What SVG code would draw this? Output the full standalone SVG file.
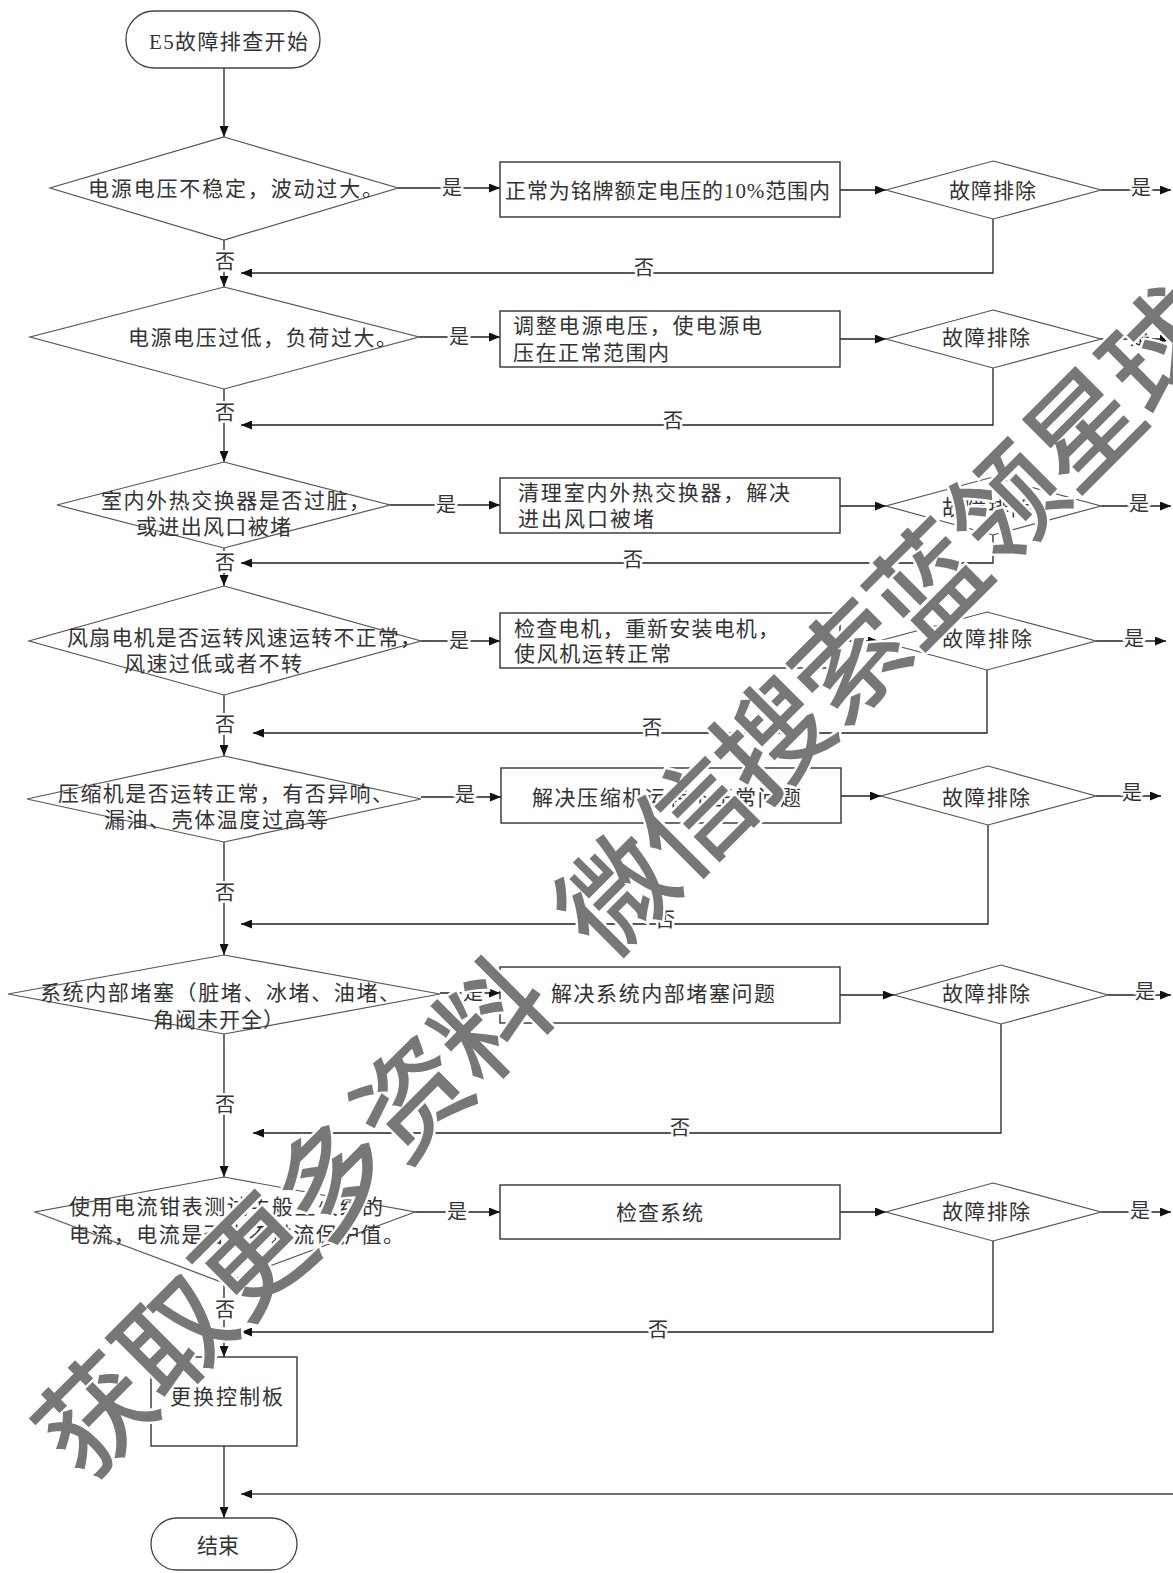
<svg xmlns="http://www.w3.org/2000/svg" width="1173" height="1573" viewBox="0 0 1173 1573">
<defs>
<marker id="ah" markerWidth="11" markerHeight="9" refX="11" refY="4.5" orient="auto" markerUnits="userSpaceOnUse"><path d="M0,0 L11,4.5 L0,9 z" fill="#111"/></marker>
<style>
.ln{stroke:#222;stroke-width:1.3;fill:none}
.dia{fill:#fff;stroke:#555;stroke-width:1.2}
.box{fill:#fff;stroke:#333;stroke-width:1.4}
.t{font-family:'Liberation Serif','Noto Sans CJK SC',serif;font-size:21px;fill:#333}
.l{font-family:'Liberation Serif','Noto Sans CJK SC',serif;font-size:20px;fill:#333;text-anchor:middle;stroke:#fff;stroke-width:5;paint-order:stroke}
.wm{font-family:'Noto Sans CJK SC',sans-serif;font-size:112px;font-weight:500;fill:#777;stroke:#fff;stroke-width:5;paint-order:stroke;text-anchor:middle}
</style>
</defs>
<rect width="1173" height="1573" fill="#fff"/>

<g id="connectors">
<path class="ln" d="M224,68 V137" marker-end="url(#ah)"/>
<path class="ln" d="M224,240 V287" marker-end="url(#ah)"/>
<path class="ln" d="M224,389 V462" marker-end="url(#ah)"/>
<path class="ln" d="M224,548 V586" marker-end="url(#ah)"/>
<path class="ln" d="M224,695 V756" marker-end="url(#ah)"/>
<path class="ln" d="M224,842 V955" marker-end="url(#ah)"/>
<path class="ln" d="M224,1034 V1177" marker-end="url(#ah)"/>
<path class="ln" d="M224,1283 V1357" marker-end="url(#ah)"/>
<path class="ln" d="M224,1446 V1518" marker-end="url(#ah)"/>

<path class="ln" d="M398,188 H500" marker-end="url(#ah)"/>
<path class="ln" d="M419,337 H500" marker-end="url(#ah)"/>
<path class="ln" d="M390,505 H500" marker-end="url(#ah)"/>
<path class="ln" d="M421,641 H500" marker-end="url(#ah)"/>
<path class="ln" d="M421,797 H501" marker-end="url(#ah)"/>
<path class="ln" d="M440,993 H500" marker-end="url(#ah)"/>
<path class="ln" d="M415,1212 H500" marker-end="url(#ah)"/>

<path class="ln" d="M840,190 H886" marker-end="url(#ah)"/>
<path class="ln" d="M840,339 H886" marker-end="url(#ah)"/>
<path class="ln" d="M840,506 H886" marker-end="url(#ah)"/>
<path class="ln" d="M840,641 H879" marker-end="url(#ah)"/>
<path class="ln" d="M840,796 H881" marker-end="url(#ah)"/>
<path class="ln" d="M840,995 H894" marker-end="url(#ah)"/>
<path class="ln" d="M840,1212 H886" marker-end="url(#ah)"/>

<path class="ln" d="M1101,190 H1171" marker-end="url(#ah)"/>
<path class="ln" d="M1101,339 H1171" marker-end="url(#ah)"/>
<path class="ln" d="M1101,506 H1171" marker-end="url(#ah)"/>
<path class="ln" d="M1096,641 H1166" marker-end="url(#ah)"/>
<path class="ln" d="M1096,796 H1161" marker-end="url(#ah)"/>
<path class="ln" d="M1108,995 H1171" marker-end="url(#ah)"/>
<path class="ln" d="M1101,1212 H1171" marker-end="url(#ah)"/>

<path class="ln" d="M993,219 V273 H241" marker-end="url(#ah)"/>
<path class="ln" d="M993,368 V425 H241" marker-end="url(#ah)"/>
<path class="ln" d="M993,535 V563 H241" marker-end="url(#ah)"/>
<path class="ln" d="M987,670 V733 H253" marker-end="url(#ah)"/>
<path class="ln" d="M988,825 V924 H241" marker-end="url(#ah)"/>
<path class="ln" d="M1001,1024 V1133 H253" marker-end="url(#ah)"/>
<path class="ln" d="M993,1241 V1332 H241" marker-end="url(#ah)"/>
<path d="M1173,1494 H241" stroke="#6e6e6e" stroke-width="2" fill="none" marker-end="url(#ah)"/>

<text class="l" x="452" y="195">是</text>
<text class="l" x="459" y="344">是</text>
<text class="l" x="446" y="512">是</text>
<text class="l" x="459" y="648">是</text>
<text class="l" x="465" y="802">是</text>
<text class="l" x="473" y="1000">是</text>
<text class="l" x="457" y="1219">是</text>
<text class="l" x="1141" y="195">是</text>
<text class="l" x="1140" y="345">是</text>
<text class="l" x="1139" y="511">是</text>
<text class="l" x="1134" y="646">是</text>
<text class="l" x="1132" y="800">是</text>
<text class="l" x="1145" y="999">是</text>
<text class="l" x="1140" y="1218">是</text>
<text class="l" x="225" y="269">否</text>
<text class="l" x="225" y="420">否</text>
<text class="l" x="225" y="570">否</text>
<text class="l" x="225" y="732">否</text>
<text class="l" x="225" y="900">否</text>
<text class="l" x="225" y="1112">否</text>
<text class="l" x="225" y="1317">否</text>
<text class="l" x="644" y="275">否</text>
<text class="l" x="673" y="428">否</text>
<text class="l" x="633" y="567">否</text>
<text class="l" x="652" y="735">否</text>
<text class="l" x="665" y="927">否</text>
<text class="l" x="680" y="1135">否</text>
<text class="l" x="658" y="1337">否</text>
</g>

<g id="start"><rect x="126" y="11" width="194" height="57" rx="28" fill="#fff" stroke="#444" stroke-width="1.3"/>
<text class="t" x="149" y="49" textLength="159" lengthAdjust="spacing">E5故障排查开始</text></g>

<g id="d1"><polygon class="dia" points="224,137 398,188 224,240 50,188"/>
<text class="t" x="88" y="196" textLength="295" lengthAdjust="spacing">电源电压不稳定，波动过大。</text></g>
<g id="b1"><rect class="box" x="500" y="162" width="340" height="55"/>
<text class="t" x="505" y="198" textLength="325" lengthAdjust="spacing">正常为铭牌额定电压的10%范围内</text></g>
<g id="r1"><polygon class="dia" points="993,161 1101,190 993,219 886,190"/>
<text class="t" x="949" y="198" textLength="87" lengthAdjust="spacing">故障排除</text></g>

<g id="d2"><polygon class="dia" points="224,287 419,337 224,389 30,337"/>
<text class="t" x="128" y="345" textLength="269" lengthAdjust="spacing">电源电压过低，负荷过大。</text></g>
<g id="b2"><rect class="box" x="500" y="311" width="340" height="56"/>
<text class="t" x="513" y="333" textLength="249" lengthAdjust="spacing">调整电源电压，使电源电</text>
<text class="t" x="513" y="360" textLength="156" lengthAdjust="spacing">压在正常范围内</text></g>
<g id="r2"><polygon class="dia" points="993,310 1101,339 993,368 886,339"/>
<text class="t" x="942" y="345" textLength="88" lengthAdjust="spacing">故障排除</text></g>

<g id="d3"><polygon class="dia" points="224,462 390,505 224,548 57,505"/>
<text class="t" x="101" y="508" textLength="269" lengthAdjust="spacing">室内外热交换器是否过脏，</text>
<text class="t" x="136" y="534" textLength="155" lengthAdjust="spacing">或进出风口被堵</text></g>
<g id="b3"><rect class="box" x="500" y="478" width="340" height="55"/>
<text class="t" x="518" y="500" textLength="272" lengthAdjust="spacing">清理室内外热交换器，解决</text>
<text class="t" x="518" y="526" textLength="136" lengthAdjust="spacing">进出风口被堵</text></g>
<g id="r3"><polygon class="dia" points="993,477 1101,506 993,535 886,506"/>
<text class="t" x="942" y="515" textLength="90" lengthAdjust="spacing">故障排除</text></g>

<g id="d4"><polygon class="dia" points="224,586 421,641 224,695 29,641"/>
<text class="t" x="67" y="645" textLength="354" lengthAdjust="spacing">风扇电机是否运转风速运转不正常，</text>
<text class="t" x="124" y="671" textLength="178" lengthAdjust="spacing">风速过低或者不转</text></g>
<g id="b4"><rect class="box" x="500" y="613" width="340" height="55"/>
<text class="t" x="514" y="636" textLength="265" lengthAdjust="spacing">检查电机，重新安装电机，</text>
<text class="t" x="514" y="661" textLength="157" lengthAdjust="spacing">使风机运转正常</text></g>
<g id="r4"><polygon class="dia" points="987,612 1096,641 987,670 879,641"/>
<text class="t" x="942" y="646" textLength="90" lengthAdjust="spacing">故障排除</text></g>

<g id="d5"><polygon class="dia" points="224,756 421,799 224,842 27,799"/>
<text class="t" x="58" y="801" textLength="335" lengthAdjust="spacing">压缩机是否运转正常，有否异响、</text>
<text class="t" x="104" y="827" textLength="224" lengthAdjust="spacing">漏油、壳体温度过高等</text></g>
<g id="b5"><rect class="box" x="501" y="768" width="340" height="55"/>
<text class="t" x="532" y="805" textLength="269" lengthAdjust="spacing">解决压缩机运转不正常问题</text></g>
<g id="r5"><polygon class="dia" points="988,766 1096,796 988,825 881,796"/>
<text class="t" x="942" y="805" textLength="88" lengthAdjust="spacing">故障排除</text></g>

<g id="d6"><polygon class="dia" points="224,955 440,994 224,1034 8,994"/>
<text class="t" x="40" y="1000" textLength="360" lengthAdjust="spacing">系统内部堵塞（脏堵、冰堵、油堵、</text>
<text class="t" x="153" y="1027" textLength="131" lengthAdjust="spacing">角阀未开全）</text></g>
<g id="b6"><rect class="box" x="500" y="967" width="340" height="56"/>
<text class="t" x="551" y="1001" textLength="224" lengthAdjust="spacing">解决系统内部堵塞问题</text></g>
<g id="r6"><polygon class="dia" points="1001,965 1108,995 1001,1024 894,995"/>
<text class="t" x="942" y="1001" textLength="88" lengthAdjust="spacing">故障排除</text></g>

<g id="d7"><polygon class="dia" points="224,1177 415,1212 224,1283 35,1212"/>
<text class="t" x="69" y="1214" textLength="314" lengthAdjust="spacing">使用电流钳表测试主般上火线的</text>
<text class="t" x="69" y="1242" textLength="335" lengthAdjust="spacing">电流，电流是否大不过流保护值。</text></g>
<g id="b7"><rect class="box" x="500" y="1185" width="340" height="54"/>
<text class="t" x="616" y="1220" textLength="87" lengthAdjust="spacing">检查系统</text></g>
<g id="r7"><polygon class="dia" points="993,1183 1101,1212 993,1241 886,1212"/>
<text class="t" x="942" y="1219" textLength="88" lengthAdjust="spacing">故障排除</text></g>

<g id="b8"><rect class="box" x="151" y="1357" width="146" height="89"/>
<text class="t" x="170" y="1404" textLength="113" lengthAdjust="spacing">更换控制板</text></g>
<g id="end"><rect x="151" y="1518" width="146" height="52" rx="26" fill="#fff" stroke="#444" stroke-width="1.3"/>
<text class="t" x="197" y="1553" textLength="42" lengthAdjust="spacing">结束</text></g>

<g id="watermark" transform="translate(92,1412) rotate(-45)">
<text class="wm" x="0 112 224 336 448 560 737 847 957 1067 1177 1287 1397 1507" y="46">获取更多资料微信搜索蓝领星球</text>
</g>
</svg>
